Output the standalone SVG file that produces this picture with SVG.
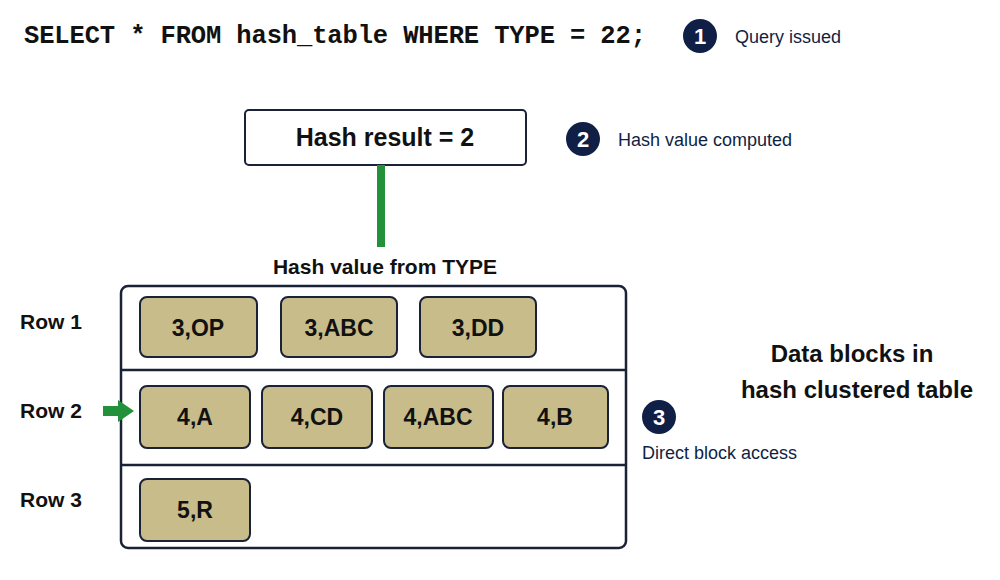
<svg xmlns="http://www.w3.org/2000/svg" width="1000" height="580" viewBox="0 0 1000 580">
<style>
.t{font-family:"Liberation Sans",Arial,sans-serif;fill:#111;font-weight:bold}
.blk{fill:#c8bc8a;stroke:#1a2238;stroke-width:2}
.bt{font-family:"Liberation Sans",Arial,sans-serif;font-weight:bold;font-size:23px;fill:#111;text-anchor:middle}
.badge{fill:#0f1f45}
.bn{font-family:"Liberation Sans",Arial,sans-serif;font-weight:bold;font-size:22px;fill:#fff;text-anchor:middle}
.lab{font-family:"Liberation Sans",Arial,sans-serif;font-size:18px;fill:#0f1f45}
</style>
<rect width="1000" height="580" fill="#fff"/>
<g id="query"><text x="24" y="43" font-family="Liberation Mono,monospace" font-weight="bold" font-size="25.5" fill="#111" textLength="622">SELECT * FROM hash_table WHERE TYPE = 22;</text></g>
<g id="step1"><circle class="badge" cx="700" cy="36" r="17"/><text class="bn" x="700" y="44">1</text><text class="lab" x="735" y="43">Query issued</text></g>
<g id="hashbox"><rect x="245" y="110" width="281" height="55" rx="4" fill="#fff" stroke="#1a2238" stroke-width="2"/><text class="t" x="385" y="146" font-size="25" text-anchor="middle">Hash result = 2</text></g>
<g id="step2"><circle class="badge" cx="583" cy="139" r="17"/><text class="bn" x="583" y="147">2</text><text class="lab" x="618" y="146">Hash value computed</text></g>
<text class="t" x="385" y="274" font-size="21" text-anchor="middle">Hash value from TYPE</text>
<g id="table">
<rect x="121" y="286" width="505" height="262" rx="7" fill="#fff" stroke="#1a2238" stroke-width="2.5"/>
<line x1="121" y1="370" x2="626" y2="370" stroke="#1a2238" stroke-width="2.5"/>
<line x1="121" y1="465" x2="626" y2="465" stroke="#1a2238" stroke-width="2.5"/>
</g>
<g id="connectors">
<line x1="381" y1="165" x2="381" y2="247" stroke="#22913a" stroke-width="8"/>
<polygon points="103,406 118,406 118,400 134,411 118,422 118,416 103,416" fill="#22913a"/>
</g>
<g id="rowlabels">
<text class="t" x="20" y="329" font-size="21">Row 1</text>
<text class="t" x="20" y="418" font-size="21">Row 2</text>
<text class="t" x="20" y="507" font-size="21">Row 3</text>
</g>
<g id="b1"><rect class="blk" x="140" y="297" width="117" height="60" rx="7"/><text class="bt" x="198" y="336">3,OP</text></g>
<g id="b2"><rect class="blk" x="281" y="297" width="116" height="60" rx="7"/><text class="bt" x="339" y="336">3,ABC</text></g>
<g id="b3"><rect class="blk" x="420" y="297" width="116" height="60" rx="7"/><text class="bt" x="478" y="336">3,DD</text></g>
<g id="b4"><rect class="blk" x="140" y="386" width="110" height="62" rx="7"/><text class="bt" x="195" y="425">4,A</text></g>
<g id="b5"><rect class="blk" x="262" y="386" width="110" height="62" rx="7"/><text class="bt" x="317" y="425">4,CD</text></g>
<g id="b6"><rect class="blk" x="384" y="386" width="109" height="62" rx="7"/><text class="bt" x="438" y="425">4,ABC</text></g>
<g id="b7"><rect class="blk" x="503" y="386" width="105" height="62" rx="7"/><text class="bt" x="555" y="425">4,B</text></g>
<g id="b8"><rect class="blk" x="140" y="479" width="110" height="62" rx="7"/><text class="bt" x="195" y="518">5,R</text></g>
<g id="step3"><circle class="badge" cx="659" cy="417" r="17"/><text class="bn" x="659" y="425">3</text><text class="lab" x="642" y="459" font-size="16">Direct block access</text></g>
<g id="note"><text class="t" x="852" y="362" font-size="24" text-anchor="middle" fill="#0f1f45">Data blocks in</text><text class="t" x="857" y="398" font-size="24" text-anchor="middle" fill="#0f1f45">hash clustered table</text></g>
</svg>
